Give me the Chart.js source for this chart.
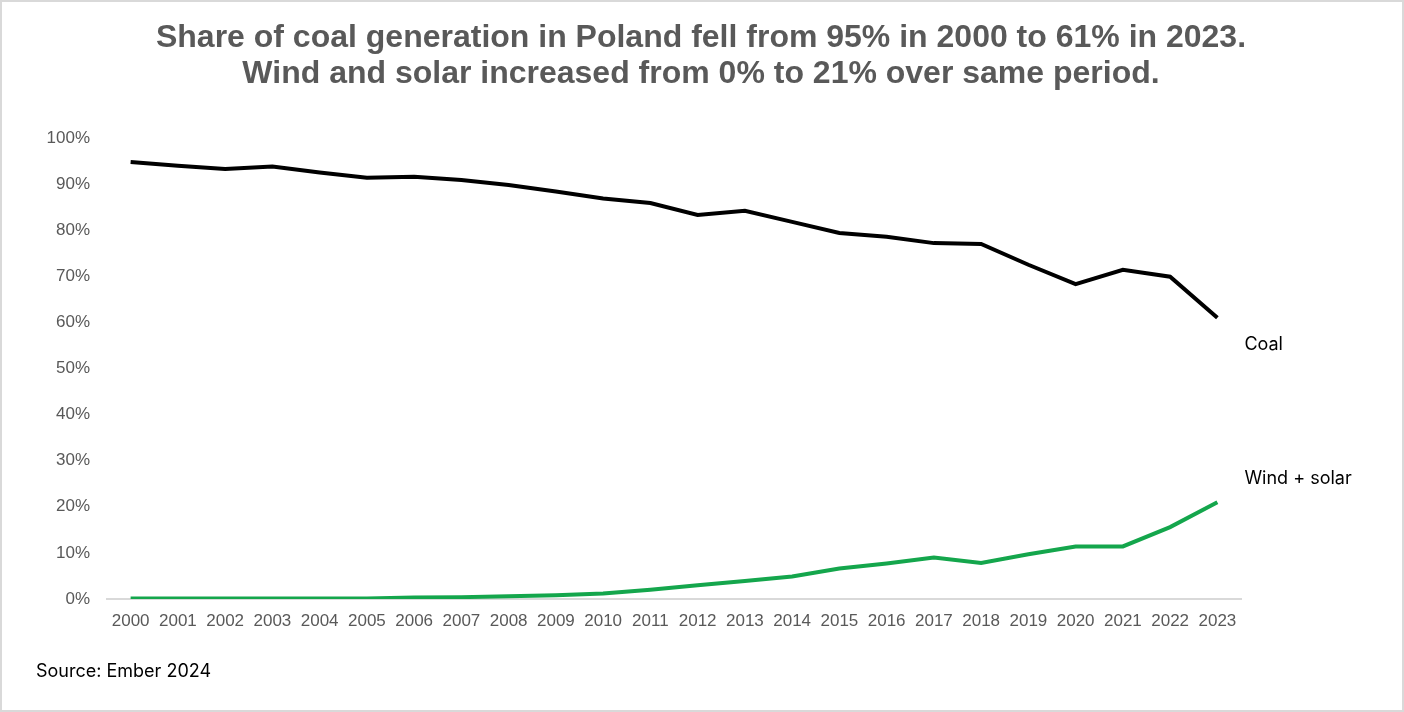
<!DOCTYPE html>
<html>
<head>
<meta charset="utf-8">
<script src="https://cdn.jsdelivr.net/npm/chart.js"></script>
<style>
  body { margin: 0; background: #fff; }
  #frame { position: absolute; left: 0; top: 0; width: 1404px; height: 712px; box-sizing: border-box; border: 2px solid #d9d9d9; }
  #wrap { position: absolute; left: 0; top: 0; width: 1404px; height: 712px; }
</style>
</head>
<body>
<div id="frame"></div>
<div id="wrap"><canvas id="coalChart"></canvas></div>
<script>
// Data
const years = ['2000','2001','2002','2003','2004','2005','2006','2007','2008','2009','2010','2011',
               '2012','2013','2014','2015','2016','2017','2018','2019','2020','2021','2022','2023'];
const coalShare = [94.8, 94.0, 93.3, 93.8, 92.5, 91.4, 91.6, 90.9, 89.8, 88.4, 86.9, 85.9,
                   83.3, 84.2, 81.8, 79.4, 78.6, 77.2, 77.0, 72.5, 68.3, 71.4, 69.9, 61.0];
const windSolarShare = [0.1, 0.1, 0.1, 0.1, 0.1, 0.1, 0.3, 0.4, 0.6, 0.8, 1.2, 2.0,
                        3.0, 3.9, 4.9, 6.6, 7.7, 9.0, 7.8, 9.7, 11.4, 11.4, 15.6, 21.0];
const seriesNames = ['Coal', 'Wind + solar'];
const titleLines = ['Share of coal generation in Poland fell from 95% in 2000 to 61% in 2023.',
                    'Wind and solar increased from 0% to 21% over same period.'];
const sourceText = 'Source: Ember 2024';

// title, source note and end-of-line labels
const annotations = {
  id: 'annotations',
  afterDraw(chart) {
    const ctx = chart.ctx;
    const x = chart.scales.x, y = chart.scales.y;
    ctx.save();
    ctx.fillStyle = '#595959';
    ctx.font = 'bold 32px "Liberation Sans", Arial, sans-serif';
    ctx.textAlign = 'center';
    ctx.textBaseline = 'alphabetic';
    ctx.fillText(titleLines[0], 701, 47);
    ctx.fillText(titleLines[1], 701, 83);

    ctx.fillStyle = '#000';
    ctx.font = '18px Inter, "Noto Sans", sans-serif';
    ctx.textAlign = 'left';
    ctx.textBaseline = 'middle';
    ctx.fillText(sourceText, 36, 672);

    const last = years.length - 1;
    const lx = x.getPixelForValue(last) + 27;
    ctx.fillText(seriesNames[0], lx, y.getPixelForValue(coalShare[last]) + 27);
    ctx.fillText(seriesNames[1], lx, y.getPixelForValue(windSolarShare[last]) - 24);
    ctx.restore();
  }
};

function initializeChart() {
  const ctx = document.getElementById('coalChart').getContext('2d');
  new Chart(ctx, {
    type: 'line',
    data: {
      labels: years,
      datasets: [{
        label: seriesNames[0],
        data: coalShare,
        borderColor: '#000000',
        borderWidth: 4,
        pointRadius: 0,
        tension: 0,
        fill: false
      }, {
        label: seriesNames[1],
        data: windSolarShare,
        borderColor: '#14a64c',
        borderWidth: 4,
        pointRadius: 0,
        tension: 0,
        fill: false
      }]
    },
    options: {
      responsive: true,
      maintainAspectRatio: false,
      animation: false,
      layout: { padding: { left: 0, right: 163, top: 138, bottom: 73 } },
      plugins: {
        legend: { display: false },
        tooltip: { enabled: false }
      },
      scales: {
        x: {
          offset: true,
          grid: { display: false, drawTicks: false },
          border: { display: true, color: '#d9d9d9', width: 2 },
          ticks: {
            color: '#595959',
            font: { family: '"Liberation Sans", Arial, sans-serif', size: 17 },
            padding: 12,
            maxRotation: 0,
            autoSkip: false
          },
          afterFit(scale) { scale.height = 40; }
        },
        y: {
          min: 0,
          max: 100,
          grid: { display: false, drawTicks: false },
          border: { display: false },
          ticks: {
            stepSize: 10,
            color: '#595959',
            font: { family: '"Liberation Sans", Arial, sans-serif', size: 17 },
            padding: 17,
            callback: v => v + '%'
          },
          afterFit(scale) { scale.width = 107; }
        }
      }
    },
    plugins: [annotations]
  });
}

document.addEventListener('DOMContentLoaded', initializeChart);
</script>
</body>
</html>
